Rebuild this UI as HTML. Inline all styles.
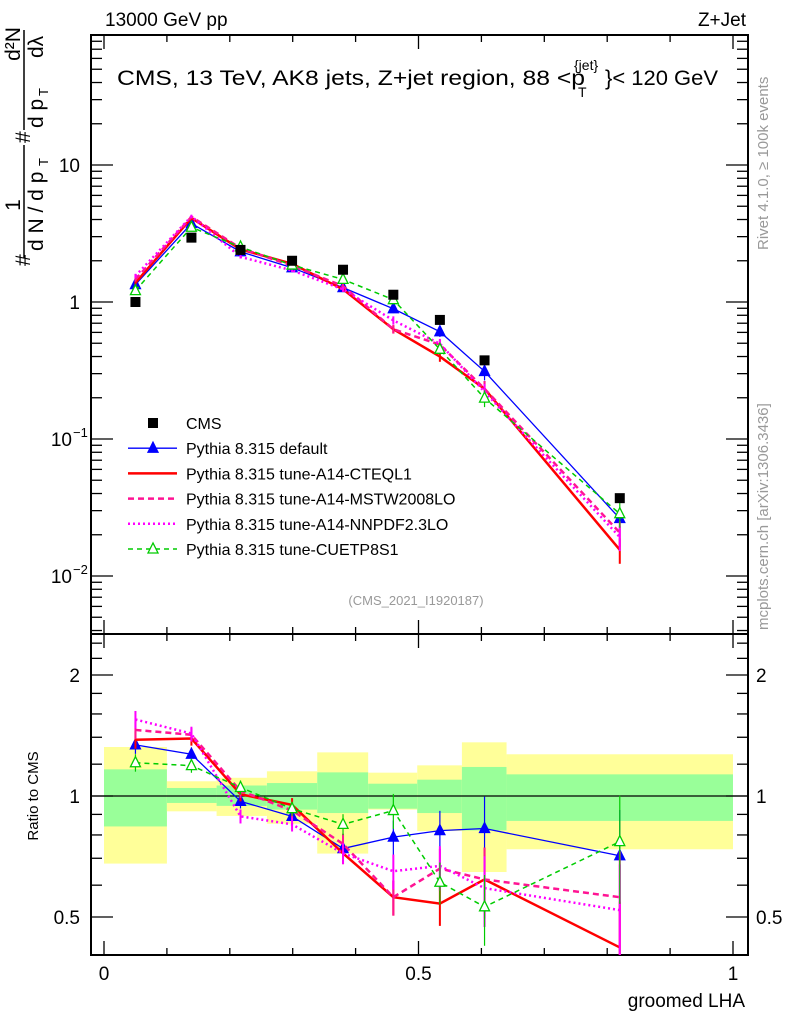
<!DOCTYPE html>
<html><head><meta charset="utf-8"><style>
body{margin:0;background:#fff}
svg{display:block;font-family:"Liberation Sans",sans-serif}
</style></head><body>
<svg id="c" width="786" height="1024" viewBox="0 0 786 1024"></svg>
<script>
const xCenters=[0.05,0.139,0.217,0.299,0.38,0.46,0.534,0.605,0.82];
const binEdges=[0,0.1,0.179,0.259,0.339,0.42,0.498,0.569,0.64,1.0];
const cmsValues=[1.0,2.95,2.4,2.0,1.72,1.13,0.74,0.375,0.037];
const ratioDefault=[1.34,1.27,0.97,0.89,0.74,0.79,0.82,0.83,0.71];
const ratioCTEQ=[1.38,1.39,1.01,0.95,0.72,0.56,0.54,0.62,0.42];
const ratioMSTW=[1.46,1.42,1.03,0.92,0.76,0.56,0.66,0.62,0.56];
const ratioNNPDF=[1.55,1.43,0.89,0.85,0.72,0.65,0.67,0.59,0.52];
const ratioCUETP=[1.21,1.19,1.05,0.93,0.85,0.92,0.61,0.53,0.77];
const relErr=[0.05,0.04,0.04,0.04,0.06,0.1,0.12,0.2,0.3];
const yellowUp=[1.324,1.088,1.11,1.152,1.284,1.143,1.192,1.36,1.27];
const yellowLo=[0.679,0.916,0.892,0.853,0.719,0.925,0.818,0.647,0.737];
const greenUp=[1.165,1.047,1.062,1.077,1.145,1.073,1.098,1.181,1.132];
const greenLo=[0.84,0.961,0.945,0.925,0.907,0.93,0.907,0.821,0.867];

const NS="http://www.w3.org/2000/svg";const svg=document.getElementById('c');
function el(t,a,p){const e=document.createElementNS(NS,t);for(const k in a)e.setAttribute(k,a[k]);(p||svg).appendChild(e);return e;}
const L=91,R=748,T=35,MB=634,RB=955;
const X=x=>104+629*x;
const Y=v=>302-137*Math.log10(v);
const YR=r=>796-121*Math.log2(r);

const defs=el('defs',{});
const c1=el('clipPath',{id:'clipMain'},defs);el('rect',{x:L,y:T,width:R-L,height:MB-T},c1);
const c2=el('clipPath',{id:'clipRatio'},defs);el('rect',{x:L,y:MB,width:R-L,height:RB-MB},c2);

// bands
const bands=el('g',{});


for(let i=0;i<xCenters.length;i++){
 const r1=el('rect',{x:X(binEdges[i]),y:YR(yellowUp[i]),width:X(binEdges[i+1])-X(binEdges[i]),height:YR(yellowLo[i])-YR(yellowUp[i]),fill:'#ffff99'},bands);
 
 
 const r2=el('rect',{x:X(binEdges[i]),y:YR(greenUp[i]),width:X(binEdges[i+1])-X(binEdges[i]),height:YR(greenLo[i])-YR(greenUp[i]),fill:'#99ff99'},bands);
 
 
}
el('line',{x1:L,x2:R,y1:796,y2:796,stroke:'#000','stroke-width':1.3});

// frames
el('rect',{x:L,y:T,width:R-L,height:MB-T,fill:'none',stroke:'#000','stroke-width':2});
el('rect',{x:L,y:MB,width:R-L,height:RB-MB,fill:'none',stroke:'#000','stroke-width':2});
for(let k=0;k<=10;k++){const x=X(k/10),len=k%5==0?14:7;
 [[T,1],[MB,-1],[MB,1],[RB,-1]].forEach(([y,d])=>el('line',{x1:x,x2:x,y1:y,y2:y+d*len,stroke:'#000','stroke-width':1.3}));}
[['0',0],['0.5',0.5],['1',1]].forEach(([t,v])=>{const e=el('text',{x:X(v),y:980,'font-size':19,'text-anchor':'middle'});e.textContent=t;
 });
for(let d=-3;d<=1;d++)for(let m=1;m<10;m++){const v=m*Math.pow(10,d),y=Y(v);if(y<T||y>MB)continue;const len=m==1?22:11;
 el('line',{x1:L,x2:L+len,y1:y,y2:y,stroke:'#000','stroke-width':1.3});el('line',{x1:R,x2:R-len,y1:y,y2:y,stroke:'#000','stroke-width':1.3});}
[['10',10,''],['1',1,''],['10',0.1,'−1'],['10',0.01,'−2']].forEach(([t,v,s])=>{const e=el('text',{x:s?72:80,y:Y(v)+7,'font-size':19,'text-anchor':'end'});e.textContent=t;
 
 if(s){const f=el('text',{x:73,y:Y(v)-2,'font-size':13});f.textContent=s;}});
[0.4,0.5,0.6,0.7,0.8,0.9,1,1.2,1.4,1.6,1.8,2,2.2,2.4].forEach(r=>{const y=YR(r);if(y<MB||y>RB)return;const len=(r==0.5||r==1||r==2)?22:11;
 el('line',{x1:L,x2:L+len,y1:y,y2:y,stroke:'#000','stroke-width':1.3});el('line',{x1:R,x2:R-len,y1:y,y2:y,stroke:'#000','stroke-width':1.3});});
[['2',2],['1',1],['0.5',0.5]].forEach(([t,v])=>{[[80,'end'],[756,'start']].forEach(([x,a])=>{const e=el('text',{x:x,y:YR(v)+7,'font-size':19,'text-anchor':a});e.textContent=t;
 });});

const series=[
 {n:'pythia-default',r:ratioDefault,c:'#0000ff',w:1.3,d:'',m:'tri',f:true},
 {n:'pythia-a14-cteql1',r:ratioCTEQ,c:'#ff0000',w:2.5,d:'',m:'none'},
 {n:'pythia-a14-mstw2008lo',r:ratioMSTW,c:'#ff1493',w:2.5,d:'6,4',m:'none'},
 {n:'pythia-a14-nnpdf23lo',r:ratioNNPDF,c:'#ff00ff',w:2.5,d:'2,3',m:'none'},
 {n:'pythia-cuetp8s1',r:ratioCUETP,c:'#00cc00',w:1.5,d:'5,4',m:'tri',f:false}
];
function tri(g,x,y,c,f){el('polygon',{points:`${x},${y-6} ${x-5},${y+4} ${x+5},${y+4}`,fill:f?c:'#fff',stroke:c,'stroke-width':1.3},g);}
series.forEach(s=>{
 ['main','ratio'].forEach(pl=>{
  const g=el('g',{'clip-path':pl=='main'?'url(#clipMain)':'url(#clipRatio)'});
  
  
  const pts=xCenters.map((x,i)=>{const v=pl=='main'?cmsValues[i]*s.r[i]:s.r[i];return [X(x),pl=='main'?Y(v):YR(v),v];});
  el('polyline',{points:pts.map(p=>p[0]+','+p[1]).join(' '),fill:'none',stroke:s.c,'stroke-width':s.w,'stroke-dasharray':s.d},g);
  pts.forEach((p,i)=>{const v=p[2],e=relErr[i]*(pl=='main'?0.7:1);const f=pl=='main'?Y:YR;
   el('line',{x1:p[0],x2:p[0],y1:f(v*(1+e)),y2:f(v*(1-e)),stroke:s.c,'stroke-width':s.w>2?2:1.2},g);
   if(s.m=='tri')tri(g,p[0],p[1],s.c,s.f);});
 });
});
const cg=el('g',{});


xCenters.forEach((x,i)=>el('rect',{x:X(x)-5,y:Y(cmsValues[i])-5,width:10,height:10,fill:'#000'},cg));

const leg=[['CMS','sq'],['Pythia 8.315 default',0],['Pythia 8.315 tune-A14-CTEQL1',1],['Pythia 8.315 tune-A14-MSTW2008LO',2],['Pythia 8.315 tune-A14-NNPDF2.3LO',3],['Pythia 8.315 tune-CUETP8S1',4]];
leg.forEach(([t,k],i)=>{const y=423+i*25.2;const g=el('g',{});
 
 
 if(k==='sq')el('rect',{x:148,y:y-5,width:10,height:10,fill:'#000'},g);
 else{const s=series[k];el('line',{x1:128,x2:177,y1:y,y2:y,stroke:s.c,'stroke-width':s.w,'stroke-dasharray':s.d},g);if(s.m=='tri')tri(g,153,y,s.c,s.f);}
 const e=el('text',{x:186,y:y+6,'font-size':16},g);e.textContent=t;});

function txt(t,a,name){const e=el('text',a);e.textContent=t;return e;}
txt('13000 GeV pp',{x:105,y:26,'font-size':19},'energy-label');
txt('Z+Jet',{x:746,y:26,'font-size':19,'text-anchor':'end'},'process-label');
txt('CMS, 13 TeV, AK8 jets, Z+jet region, 88 <p',{x:117,y:85,'font-size':21,textLength:468,lengthAdjust:'spacingAndGlyphs'},'plot-title');
txt('{jet}',{x:574,y:70,'font-size':14},'plot-title-superscript');
txt('T',{x:578,y:97,'font-size':14},'plot-title-subscript');
txt('}< 120 GeV',{x:605,y:85,'font-size':21,textLength:113,lengthAdjust:'spacingAndGlyphs'},'plot-title-end');
txt('(CMS_2021_I1920187)',{x:416,y:605,'font-size':13,fill:'#999','text-anchor':'middle'},'analysis-id');
txt('Rivet 4.1.0, ≥ 100k events',{x:0,y:0,'font-size':15,fill:'#999',transform:'translate(768,250) rotate(-90)'},'rivet-version');
txt('mcplots.cern.ch [arXiv:1306.3436]',{x:0,y:0,'font-size':15,fill:'#999',transform:'translate(768,630) rotate(-90)'},'mcplots-credit');
txt('Ratio to CMS',{x:0,y:0,'font-size':15,'text-anchor':'middle',transform:'translate(38,796) rotate(-90)'},'ratio-axis-title');
txt('groomed LHA',{x:745,y:1007,'font-size':19,'text-anchor':'end'},'x-axis-title');

// y-axis title (rotated)
const yg=el('g',{transform:'rotate(-90)','font-size':21});


function yt(t,x,y,fs,anc){const e=el('text',{x:x,y:y,'font-size':fs||21,'text-anchor':anc||'start'},yg);e.textContent=t;return e;}
yt('#',-266,30);
yt('1',-205,20,21,'middle');
yt('d N / d p',-251,43);
yt('T',-166,48,13);
yt('#',-143,30);
yt('d²N',-44,20,21,'middle');
yt('d p',-128,43);
yt('T',-96,48,13);
yt('dλ',-58,43);
el('line',{x1:24,x2:24,y1:258,y2:145,stroke:'#000','stroke-width':1.5});
el('line',{x1:24,x2:24,y1:130,y2:30,stroke:'#000','stroke-width':1.5});
</script>
</body></html>
